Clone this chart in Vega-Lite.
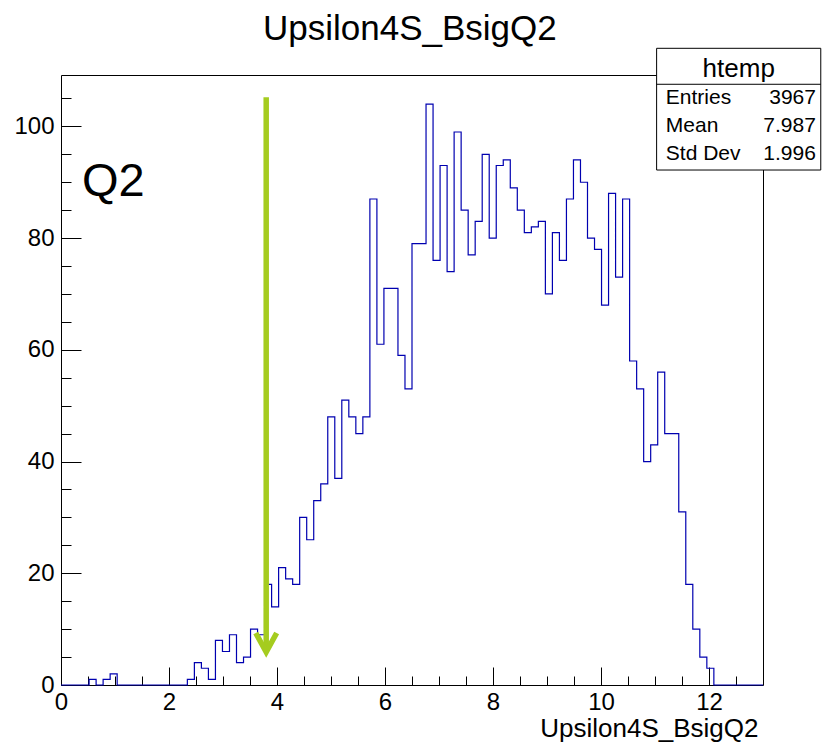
{
  "$schema": "https://vega.github.io/schema/vega-lite/v6.json",
  "width": 702,
  "height": 610,
  "autosize": {"type": "none"},
  "padding": {"left": 61, "top": 75, "right": 64, "bottom": 57},
  "background": "white",
  "config": {
    "view": {"stroke": null},
    "font": "Liberation Sans",
    "axis": {"domainColor": "black", "domainWidth": 1, "tickColor": "black", "tickWidth": 1, "labelColor": "black", "titleColor": "black", "grid": false, "labelFont": "Liberation Sans", "titleFont": "Liberation Sans", "titleFontWeight": "normal"}
  },
  "datasets": {
    "hist": [
      {"x": 0, "n": 0}, {"x": 0.13, "n": 0}, {"x": 0.26, "n": 0}, {"x": 0.39, "n": 0}, {"x": 0.52, "n": 1},
      {"x": 0.65, "n": 0}, {"x": 0.78, "n": 1}, {"x": 0.91, "n": 2}, {"x": 1.04, "n": 0}, {"x": 1.17, "n": 0},
      {"x": 1.3, "n": 0}, {"x": 1.43, "n": 0}, {"x": 1.56, "n": 0}, {"x": 1.69, "n": 0}, {"x": 1.82, "n": 0},
      {"x": 1.95, "n": 0}, {"x": 2.08, "n": 0}, {"x": 2.21, "n": 0}, {"x": 2.34, "n": 1}, {"x": 2.47, "n": 4},
      {"x": 2.6, "n": 3}, {"x": 2.73, "n": 1}, {"x": 2.86, "n": 8}, {"x": 2.99, "n": 6}, {"x": 3.12, "n": 9},
      {"x": 3.25, "n": 4}, {"x": 3.38, "n": 5}, {"x": 3.51, "n": 10}, {"x": 3.64, "n": 9}, {"x": 3.77, "n": 18},
      {"x": 3.9, "n": 14}, {"x": 4.03, "n": 21}, {"x": 4.16, "n": 19}, {"x": 4.29, "n": 18}, {"x": 4.42, "n": 30},
      {"x": 4.55, "n": 26}, {"x": 4.68, "n": 33}, {"x": 4.81, "n": 36}, {"x": 4.94, "n": 48}, {"x": 5.07, "n": 37},
      {"x": 5.2, "n": 51}, {"x": 5.33, "n": 48}, {"x": 5.46, "n": 45}, {"x": 5.59, "n": 48}, {"x": 5.72, "n": 87},
      {"x": 5.85, "n": 61}, {"x": 5.98, "n": 71}, {"x": 6.11, "n": 71}, {"x": 6.24, "n": 59}, {"x": 6.37, "n": 53},
      {"x": 6.5, "n": 79}, {"x": 6.63, "n": 79}, {"x": 6.76, "n": 104}, {"x": 6.89, "n": 76}, {"x": 7.02, "n": 93},
      {"x": 7.15, "n": 74}, {"x": 7.28, "n": 99}, {"x": 7.41, "n": 85}, {"x": 7.54, "n": 77}, {"x": 7.67, "n": 83},
      {"x": 7.8, "n": 95}, {"x": 7.93, "n": 80}, {"x": 8.06, "n": 93}, {"x": 8.19, "n": 94}, {"x": 8.32, "n": 89},
      {"x": 8.45, "n": 85}, {"x": 8.58, "n": 81}, {"x": 8.71, "n": 82}, {"x": 8.84, "n": 83}, {"x": 8.97, "n": 70},
      {"x": 9.1, "n": 81}, {"x": 9.23, "n": 76}, {"x": 9.36, "n": 87}, {"x": 9.49, "n": 94}, {"x": 9.62, "n": 90},
      {"x": 9.75, "n": 80}, {"x": 9.88, "n": 78}, {"x": 10.01, "n": 68}, {"x": 10.14, "n": 88}, {"x": 10.27, "n": 73},
      {"x": 10.4, "n": 87}, {"x": 10.53, "n": 58}, {"x": 10.66, "n": 53}, {"x": 10.79, "n": 40}, {"x": 10.92, "n": 43},
      {"x": 11.05, "n": 56}, {"x": 11.18, "n": 45}, {"x": 11.31, "n": 45}, {"x": 11.44, "n": 31}, {"x": 11.57, "n": 18},
      {"x": 11.7, "n": 10}, {"x": 11.83, "n": 5}, {"x": 11.96, "n": 3}, {"x": 12.09, "n": 0}, {"x": 12.22, "n": 0},
      {"x": 12.35, "n": 0}, {"x": 12.48, "n": 0}, {"x": 12.61, "n": 0}, {"x": 12.74, "n": 0}, {"x": 12.87, "n": 0},
      {"x": 13, "n": 0}
    ],
    "one": [{"k": 1}]
  },
  "resolve": {"axis": {"x": "independent", "y": "independent"}, "scale": {"x": "shared", "y": "shared"}},
  "layer": [
    {
      "data": {"name": "hist"},
      "mark": {"type": "line", "interpolate": "step-after", "color": "#0000b0", "strokeWidth": 1.2},
      "encoding": {
        "x": {"field": "x", "type": "quantitative", "scale": {"domain": [0, 13], "nice": false, "zero": false},
          "axis": {"orient": "bottom", "values": [0, 2, 4, 6, 8, 10, 12], "tickSize": -18, "labelPadding": 23, "labelFontSize": 24, "labelFlush": false, "labelOverlap": false,
            "title": "Upsilon4S_BsigQ2", "titleFontSize": 26, "titleAlign": "right", "titleAnchor": "end", "titleBaseline": "alphabetic", "titleX": 697, "titleY": 51}},
        "y": {"field": "n", "type": "quantitative", "scale": {"domain": [0, 109.2], "nice": false},
          "axis": {"orient": "left", "values": [0, 20, 40, 60, 80, 100], "tickSize": -20, "labelPadding": 27, "labelFontSize": 24, "labelFlush": false, "labelOverlap": false, "title": null}}
      }
    },
    {
      "data": {"name": "hist"},
      "mark": {"type": "point", "opacity": 0},
      "encoding": {
        "x": {"field": "x", "type": "quantitative", "axis": {"orient": "bottom", "domain": false, "labels": false, "title": null, "tickSize": -9, "values": [0.5, 1, 1.5, 2.5, 3, 3.5, 4.5, 5, 5.5, 6.5, 7, 7.5, 8.5, 9, 9.5, 10.5, 11, 11.5, 12.5]}},
        "y": {"field": "n", "type": "quantitative", "axis": {"orient": "left", "domain": false, "labels": false, "title": null, "tickSize": -10, "values": [5, 10, 15, 25, 30, 35, 45, 50, 55, 65, 70, 75, 85, 90, 95, 105]}}
      }
    },
    {
      "data": {"name": "hist"},
      "mark": {"type": "point", "opacity": 0},
      "encoding": {
        "x": {"field": "x", "type": "quantitative", "axis": {"orient": "top", "domain": true, "ticks": false, "labels": false, "title": null}},
        "y": {"field": "n", "type": "quantitative", "axis": {"orient": "right", "domain": true, "ticks": false, "labels": false, "title": null}}
      }
    },
    {
      "data": {"name": "one"},
      "mark": {"type": "text", "text": "Upsilon4S_BsigQ2", "fontSize": 35, "align": "center", "baseline": "alphabetic", "color": "black", "font": "Liberation Sans"},
      "encoding": {
        "x": {"datum": 6.46, "type": "quantitative", "axis": null},
        "y": {"datum": 115.5, "type": "quantitative", "axis": null}
      }
    },
    {
      "data": {"name": "one"},
      "mark": {"type": "rule", "color": "#a5cc1f", "strokeWidth": 5.5, "strokeCap": "butt"},
      "encoding": {
        "x": {"datum": 3.8, "type": "quantitative", "axis": null},
        "y": {"datum": 105.2, "type": "quantitative", "axis": null},
        "y2": {"datum": 6.4}
      }
    },
    {
      "data": {"name": "one"},
      "mark": {"type": "point", "shape": "M-0.55,-1L0,0L0.55,-1", "filled": false, "color": "#a5cc1f", "strokeWidth": 5.5, "strokeJoin": "miter", "size": 1444, "opacity": 1},
      "encoding": {
        "x": {"datum": 3.8, "type": "quantitative", "axis": null},
        "y": {"datum": 5.9, "type": "quantitative", "axis": null}
      }
    },
    {
      "data": {"name": "one"},
      "mark": {"type": "text", "text": "Q2", "fontSize": 47, "align": "left", "baseline": "alphabetic", "color": "black", "font": "Liberation Sans"},
      "encoding": {
        "x": {"datum": 0.39, "type": "quantitative", "axis": null},
        "y": {"datum": 87.5, "type": "quantitative", "axis": null}
      }
    },
    {
      "data": {"name": "one"},
      "mark": {"type": "rect", "fill": "white", "stroke": "black", "strokeWidth": 1},
      "encoding": {
        "x": {"datum": 11.03, "type": "quantitative", "axis": null},
        "x2": {"datum": 14.07},
        "y": {"datum": 113.98, "type": "quantitative", "axis": null},
        "y2": {"datum": 92.19}
      }
    },
    {
      "data": {"name": "one"},
      "mark": {"type": "rule", "color": "black", "strokeWidth": 1},
      "encoding": {
        "x": {"datum": 11.03, "type": "quantitative", "axis": null},
        "x2": {"datum": 14.07},
        "y": {"datum": 107.54, "type": "quantitative", "axis": null}
      }
    },
    {
      "data": {"name": "one"},
      "mark": {"type": "text", "text": "htemp", "fontSize": 26, "align": "center", "baseline": "alphabetic", "color": "black", "font": "Liberation Sans"},
      "encoding": {
        "x": {"datum": 12.55, "type": "quantitative", "axis": null},
        "y": {"datum": 108.79, "type": "quantitative", "axis": null}
      }
    },
    {
      "data": {"name": "one"},
      "mark": {"type": "text", "text": ["Entries", "Mean", "Std Dev"], "lineHeight": 28, "fontSize": 21, "align": "left", "baseline": "alphabetic", "color": "black", "font": "Liberation Sans"},
      "encoding": {
        "x": {"datum": 11.2, "type": "quantitative", "axis": null},
        "y": {"datum": 103.96, "type": "quantitative", "axis": null}
      }
    },
    {
      "data": {"name": "one"},
      "mark": {"type": "text", "text": ["3967", "7.987", "1.996"], "lineHeight": 28, "fontSize": 21, "align": "right", "baseline": "alphabetic", "color": "black", "font": "Liberation Sans"},
      "encoding": {
        "x": {"datum": 13.98, "type": "quantitative", "axis": null},
        "y": {"datum": 103.96, "type": "quantitative", "axis": null}
      }
    }
  ]
}
